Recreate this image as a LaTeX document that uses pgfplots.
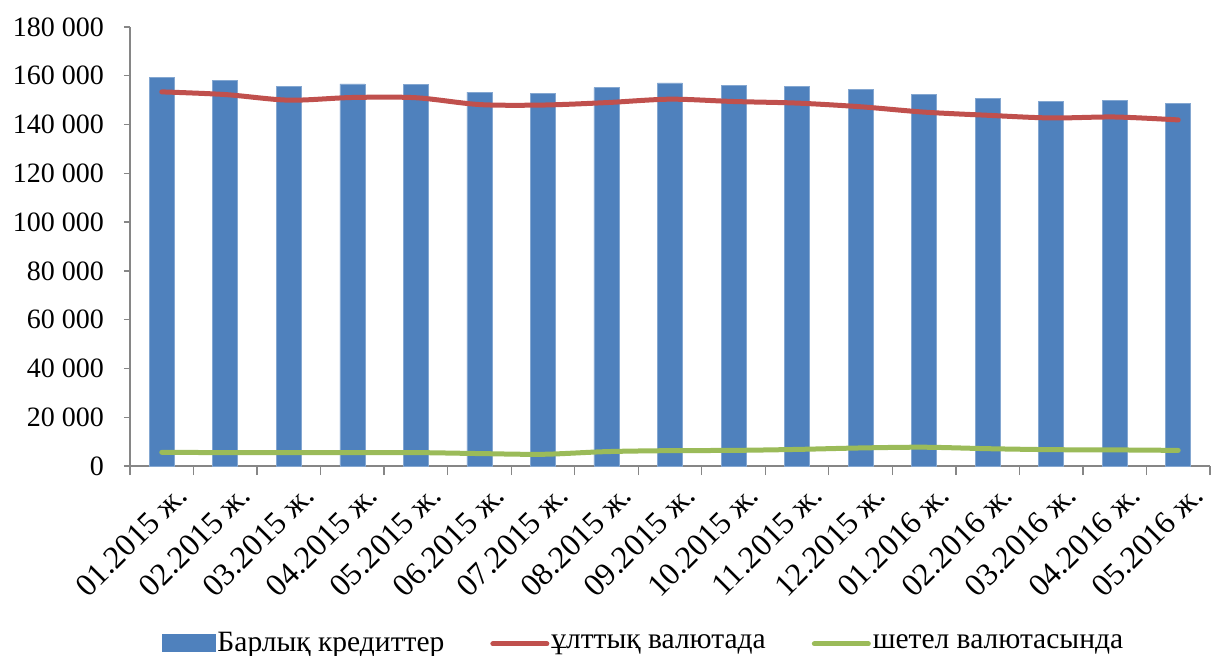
\documentclass[border=0pt]{standalone}
\usepackage{fontspec}
\setmainfont{Liberation Serif}
\usepackage{pgfplots}
\pgfplotsset{compat=1.18}

\definecolor{barblue}{HTML}{4F81BD}
\definecolor{linered}{HTML}{C0504D}
\definecolor{linegreen}{HTML}{9BBB59}
\definecolor{axisgray}{HTML}{868686}

\begin{document}
\begin{tikzpicture}
\fontsize{28pt}{32pt}\selectfont
\useasboundingbox (-130pt,-190pt) rectangle (1086pt,466pt);
\begin{axis}[
  at={(0pt,0pt)}, anchor=south west,
  scale only axis,
  width=1080pt, height=439pt,
  xmin=-0.5, xmax=16.5,
  ymin=0, ymax=180000,
  scaled y ticks=false,
  axis lines*=left,
  axis line style={axisgray, line width=1.3pt, -},
  tick style={axisgray, line width=1.3pt},
  tick align=outside,
  major tick length=6pt,
  minor tick length=9pt,
  xtick={0,...,16},
  major x tick style={draw=none},
  minor xtick={-0.5,0.5,...,16.5},
  xticklabels={01.2015 ж.,02.2015 ж.,03.2015 ж.,04.2015 ж.,05.2015 ж.,06.2015 ж.,07.2015 ж.,08.2015 ж.,09.2015 ж.,10.2015 ж.,11.2015 ж.,12.2015 ж.,01.2016 ж.,02.2016 ж.,03.2016 ж.,04.2016 ж.,05.2016 ж.},
  xticklabel style={rotate=45, anchor=east, font=\fontsize{32pt}{35pt}\selectfont, inner sep=0pt, xshift=1pt, yshift=-27pt},
  ytick={0,20000,...,180000},
  yticklabels={0,20 000,40 000,60 000,80 000,100 000,120 000,140 000,160 000,180 000},
  yticklabel style={font=\fontsize{28pt}{32pt}\selectfont, inner sep=0pt, xshift=-20pt},
  legend columns=3,
  legend style={
    at={(0.4755,-0.405)}, anchor=center,
    draw=none, fill=none,
    font=\fontsize{29.5pt}{33pt}\selectfont,
    /tikz/every even column/.append style={column sep=44pt},
    nodes={inner sep=2pt},
  },
]
\addplot[ybar, bar width=25pt, fill=barblue, draw=barblue!70!white, line width=0.6pt,
  legend image code/.code={\fill[barblue] (0pt,-8pt) rectangle (53pt,9pt);}]
  coordinates {
  (0,159450) (1,158100) (2,155750) (3,156700) (4,156600) (5,153300)
  (6,152700) (7,155100) (8,157100) (9,156000) (10,155750) (11,154500)
  (12,152500) (13,150800) (14,149450) (15,149900) (16,148600)
};
\addlegendentry{Барлық кредиттер}

\addplot[linered, line width=5pt, line cap=round, smooth, no markers,
  legend image code/.code={\draw[linered, line width=5pt, line cap=round] (2pt,0pt) -- (56pt,0pt);}]
  coordinates {
  (0,153400) (1,152300) (2,150000) (3,151100) (4,151000) (5,148200)
  (6,148000) (7,149000) (8,150400) (9,149450) (10,148800) (11,147300)
  (12,145100) (13,143800) (14,142700) (15,143100) (16,141900)
};
\addlegendentry{ұлттық валютада}

\addplot[linegreen, line width=5pt, line cap=round, smooth, no markers,
  legend image code/.code={\draw[linegreen, line width=5pt, line cap=round] (2pt,0pt) -- (56pt,0pt);}]
  coordinates {
  (0,5600) (1,5500) (2,5500) (3,5500) (4,5500) (5,5100)
  (6,4800) (7,5900) (8,6300) (9,6400) (10,6800) (11,7400)
  (12,7700) (13,7100) (14,6700) (15,6600) (16,6400)
};
\addlegendentry{шетел валютасында}
\end{axis}
\end{tikzpicture}
\end{document}
